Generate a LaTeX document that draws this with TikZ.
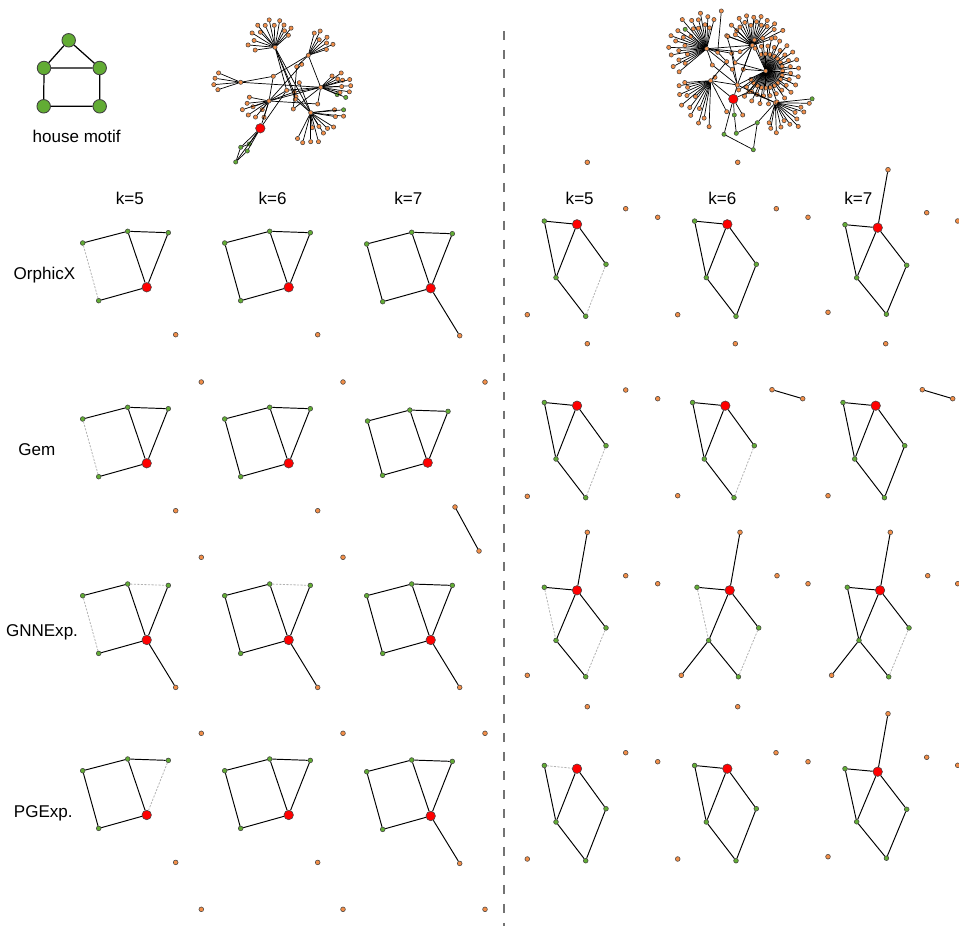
\documentclass[tikz,border=0pt]{standalone}
\usepackage{fontspec}
\setmainfont{Liberation Sans}
\usetikzlibrary{positioning, calc}

\definecolor{motifgreen}{RGB}{98,172,52}
\definecolor{nodeorange}{RGB}{242,142,72}
\definecolor{targetred}{RGB}{255,0,0}

\begin{document}
\begin{tikzpicture}[x=0.02cm, y=-0.02cm, font=\fontsize{9.7}{11.6}\selectfont,
    gn/.style={circle, draw=black!75, line width=0.3pt, fill=motifgreen, inner sep=0pt, minimum size=0.095cm},
    on/.style={gn, fill=nodeorange},
    rn/.style={gn, fill=targetred, minimum size=0.19cm},
    hn/.style={gn, line width=0.5pt, minimum size=0.27cm},
    tl/.style={on, minimum size=0.085cm},
    tg/.style={gn, minimum size=0.085cm},
    sol/.style={draw=black, line width=0.55pt},
    dsh/.style={draw=black!30, line width=0.45pt, dash pattern=on 1.2pt off 0.8pt},
    tedge/.style={draw=black, line width=0.4pt},
    divider/.style={draw=black!55, line width=1.5pt, dash pattern=on 5pt off 5.8pt}]

    \useasboundingbox (0,0) rectangle (959,932);

    % house motif
    \node[hn] (h1) at (68.7,40.3) {};
    \node[hn] (h2) at (44,68) {};
    \node[hn] (h3) at (99.7,68) {};
    \node[hn] (h4) at (43.7,106.3) {};
    \node[hn] (h5) at (99.7,106.3) {};
    \draw[sol, line width=0.7pt] (h1) -- (h2) -- (h3) -- (h1) (h2) -- (h4) -- (h5) -- (h3);
    \node (motif) at (76.7,136.3) {house motif};

    % input graph, left
    \node[tl] (A) at (275,47.3) {};
    \node[tl] (B) at (308.3,55.3) {};
    \node[tl] (C) at (240.7,82.3) {};
    \node[tl] (D) at (320.7,87.3) {};
    \node[tl] (E) at (269,101) {};
    \node[tl] (F) at (310.7,112.7) {};
    \foreach \n/\x/\y in {1/286.7/90.3, 2/294.3/92, 3/296/96.7, 4/293.3/109, 5/299.3/82.7,
                          6/301.7/64.3, 7/296.7/66.7, 8/273.3/76.3, 9/317.7/104, 10/295.3/99.3}
        \node[tl] (M\n) at (\x,\y) {};
    \node[rn] (Ared) at (260.3,128.3) {};
    \node[tg] (AG1) at (240.7,147.3) {};
    \node[tg] (AG2) at (249.3,144) {};
    \node[tg] (AG3) at (247.3,151) {};
    \node[tg] (AG4) at (235.7,162) {};

    \foreach \ang/\rad in {172/20, 185/27, 198/22, 212/27, 226/21, 232/28, 246/24, 258/28,
                           268/22, 280/27, 292/24, 300/19, 310/25, 318/18} {
        \node[tl] (A\ang) at ($(A)+(\ang:\rad)$) {};
        \draw[tedge] (A) -- (A\ang);
    }
    \foreach \ang/\rad in {285/23, 296/27, 305/19, 316/26, 326/22, 336/27, 342/19} {
        \node[tl] (B\ang) at ($(B)+(\ang:\rad)$) {};
        \draw[tedge] (B) -- (B\ang);
    }
    \foreach \ang/\rad in {162/24, 175/27, 189/26, 203/24} {
        \node[tl] (C\ang) at ($(C)+(\ang:\rad)$) {};
        \draw[tedge] (C) -- (C\ang);
    }
    \foreach \ang/\rad in {315/16, 325/25, 334/19, 342/23, 345/30, 357/30, 358/21, 9/29, 15/20} {
        \node[tl] (D\ang) at ($(D)+(\ang:\rad)$) {};
        \draw[tedge] (D) -- (D\ang);
    }
    \foreach \ang/\rad in {24/18, 22/27} {
        \node[tg] (Dg\ang) at ($(D)+(\ang:\rad)$) {};
        \draw[tedge] (D) -- (Dg\ang);
    }
    \foreach \ang/\rad in {107/17, 128/11, 130/21, 146/25, 160/17, 162/28, 174/22, 191/20} {
        \node[tl] (E\ang) at ($(E)+(\ang:\rad)$) {};
        \draw[tedge] (E) -- (E\ang);
    }
    \foreach \ang/\rad in {32/27, 43/23, 58/24, 59/16, 75/30, 84/15, 90/29, 105/31, 117/29, 353/24, 6/33, 9/25} {
        \node[tl] (F\ang) at ($(F)+(\ang:\rad)$) {};
        \draw[tedge] (F) -- (F\ang);
    }
    \node[tg] (Fg) at ($(F)+(355:33)$) {};
    \draw[tedge] (F) -- (Fg);

    \foreach \p/\q in {A/M1, A/M3, A/F, B/M7, B/M8, B/D, C/M8, C/D, M8/E, E/D, E/M1, E/M2,
                       M1/D, M2/D, M3/F, M4/D, M5/F, M6/E, M7/M4, M9/E, M9/D, M10/A, M10/F,
                       Ared/M1, Ared/E}
        \draw[tedge] (\p) -- (\q);
    \foreach \p/\q in {Ared/AG1, Ared/AG2, Ared/AG3, Ared/AG4, AG1/AG4, AG3/AG4, AG1/AG2}
        \draw[tedge] (\p) -- (\q);

    % input graph, right
    \node[tl] (P) at (706.7,48.7) {};
    \node[tl] (Q) at (752.3,45.3) {};
    \node[tl] (R) at (765.7,71) {};
    \node[tl] (S) at (710.7,80.7) {};
    \node[tl] (T) at (737.3,85) {};
    \node[tl] (U) at (775.3,102.7) {};
    \node[tl] (Ntop) at (721.3,11) {};
    \foreach \n/\x/\y in {1/717.7/52.3, 2/726.7/35.7, 3/736.7/30.7, 4/731.7/53.3, 5/740/51.7,
                          6/735/62.7, 7/726.7/61.7, 8/732.3/69.3, 9/743.3/69.3, 10/749/91.7,
                          11/742.7/115, 12/726.7/111.7, 13/712.3/65, 14/715/77.3}
        \node[tl] (N\n) at (\x,\y) {};
    \node[rn] (Bred) at (733.3,99) {};
    \node[tg] (Bg1) at (734.3,115) {};
    \node[tg] (Bg2) at (757.3,122.7) {};
    \node[tg] (Bg3) at (724,134.3) {};
    \node[tg] (Bg4) at (736.3,133.3) {};
    \node[tg] (Bg5) at (753.3,149.7) {};

    \foreach \ang/\rad in {140/36, 146/26, 152/38, 158/30, 164/20, 170/36, 176/28, 182/38, 188/22,
                           194/32, 200/38, 206/26, 212/34, 218/20, 230/38, 236/24, 242/32,
                           248/22, 254/30, 260/36, 266/24, 272/32, 278/21, 284/30} {
        \node[tl] (P\ang) at ($(P)+(\ang:\rad)$) {};
        \draw[tedge] (P) -- (P\ang);
    }
    \node[tg] (Pg) at ($(P)+(222:29)$) {};
    \draw[tedge] (P) -- (Pg);
    \foreach \ang/\rad in {200/26, 212/20, 224/29, 236/22, 244/30, 252/24, 259/30, 266/20, 273/28,
                           280/24, 287/30, 294/22, 301/29, 308/24, 316/31, 324/27, 334/34, 342/24} {
        \node[tl] (Q\ang) at ($(Q)+(\ang:\rad)$) {};
        \draw[tedge] (Q) -- (Q\ang);
    }
    \foreach \ang [count=\i] in {-115,-110,...,150} {
        \pgfmathsetmacro{\rad}{17+8*mod(\i,3)}
        \node[tl] (R\i) at ($(R)+(\ang:\rad)$) {};
        \draw[tedge] (R) -- (R\i);
    }
    \foreach \ang/\rad in {92/46, 100/38, 106/44, 112/30, 120/40, 128/34, 134/22, 140/38, 148/28,
                           156/34, 164/24, 171/32, 176/26} {
        \node[tl] (S\ang) at ($(S)+(\ang:\rad)$) {};
        \draw[tedge] (S) -- (S\ang);
    }
    \foreach \ang/\rad in {1/34, 10/26, 18/30, 26/22, 37/27, 46/33, 56/26, 64/20, 77/25, 88/30,
                           100/26, 107/21} {
        \node[tl] (U\ang) at ($(U)+(\ang:\rad)$) {};
        \draw[tedge] (U) -- (U\ang);
    }
    \node[tg] (Ug) at ($(U)+(-6:37)$) {};
    \draw[tedge] (U) -- (Ug);

    \foreach \p/\q in {Ntop/N1, P/N1, P/N4, N1/N7, N2/Q, N3/Q, N2/N6, P/N5, N5/Q, Q/N6, Q/T,
                       N6/R, N8/T, N9/R, N4/T, N7/S, N13/P, N13/T, N14/S, S/T, T/R, T/Bred,
                       Bred/N10, N10/U, N10/R, N11/Bred, N12/S, P/Q, N8/P, N9/Q, S/Bred, U/T}
        \draw[tedge] (\p) -- (\q);
    \foreach \p/\q in {Bred/Bg1, Bg1/Bg4, Bg4/Bg2, Bg2/U, Bg2/Bg5, Bg3/Bg5, Bred/Bg3}
        \draw[tedge] (\p) -- (\q);

    % divider
    \coordinate (divtop) at (504,31);
    \coordinate (divbot) at (504,926);
    \draw[divider] (divtop) -- (divbot);

    % column and row labels
    \foreach \x/\k in {129.8/5, 272.7/6, 408.3/7, 579.7/5, 722.3/6, 858.3/7}
        \node (k\k) at (\x,198.7) {k=\k};
    \node (orphicx) at (44.5,274.7) {OrphicX};
    \node (gem) at (36.8,449.5) {Gem};
    \node (gnnexp) at (42,632.3) {GNNExp.};
    \node (pgexp) at (43.3,813.8) {PGExp.};

    % explanations, house graph (left)
    \foreach \cx/\cy/\ks/\da/\db/\dc/\oo in {
        146.7/287.3/1/dsh/sol/sol/1, 288.7/287.3/1/sol/sol/sol/1, 430.7/288.3/1/sol/sol/sol/2,
        146.7/463.3/1/dsh/sol/sol/1, 288.7/463.3/1/sol/sol/sol/1, 427.7/462.7/0.94/sol/sol/sol/0,
        146.7/640/1/dsh/dsh/sol/2, 288.7/640/1/sol/dsh/sol/2, 430.7/640/1/sol/sol/sol/2,
        146.7/815/1/sol/sol/dsh/1, 288.7/815/1/sol/sol/sol/1, 430.7/816/1/sol/sol/sol/2} {
        \begin{scope}[shift={(\cx,\cy)}, scale=\ks]
            \node[gn] (a) at (-64,-44.3) {};
            \node[gn] (b) at (-19,-56) {};
            \node[gn] (c) at (21.6,-54.6) {};
            \node[gn] (d) at (-48,13.4) {};
            \node[rn] (r) at (0,0) {};
            \draw[\da] (a) -- (d);
            \draw[sol] (a) -- (b);
            \draw[\db] (b) -- (c);
            \draw[sol] (b) -- (r);
            \draw[\dc] (c) -- (r);
            \draw[sol] (d) -- (r);
            \ifnum\oo>0 \node[on] (o) at (29,47.4) {}; \fi
            \ifnum\oo>1 \draw[sol] (r) -- (o); \fi
        \end{scope}
    }

    % explanations, house graph (right)
    \foreach \cx/\cy/\sy/\fa/\fb/\fc/\tp/\mq in {
        577/224.3/1/sol/sol/dsh/0/0, 727.3/224.3/1/sol/sol/sol/0/0, 877.7/227.7/0.94/sol/sol/sol/1/0,
        577/405.7/1/sol/sol/dsh/0/0, 725.3/405.7/1/sol/sol/dsh/0/0, 875.7/405.7/1/sol/sol/sol/0/0,
        577/590.3/0.94/sol/dsh/dsh/1/0, 729.7/590.3/0.94/sol/dsh/dsh/1/1, 880/590.3/0.94/sol/sol/dsh/1/1,
        577/768.7/1/dsh/sol/sol/0/0, 727.3/768.7/1/sol/sol/sol/0/0, 877.7/771.7/0.94/sol/sol/sol/1/0} {
        \begin{scope}[shift={(\cx,\cy)}, yscale=\sy]
            \node[gn] (u) at (-32.7,-3.2) {};
            \node[rn] (r) at (0,0) {};
            \node[gn] (e) at (29,40) {};
            \node[gn] (m) at (-21,53.3) {};
            \node[gn] (w) at (8.7,92) {};
            \draw[\fa] (u) -- (r);
            \draw[\fb] (u) -- (m);
            \draw[sol] (r) -- (m);
            \draw[sol] (r) -- (e);
            \draw[sol] (m) -- (w);
            \draw[\fc] (e) -- (w);
            \ifnum\tp>0 \node[on] (t) at (10.3,-61.7) {}; \draw[sol] (r) -- (t); \fi
            \ifnum\mq>0 \node[on] (p) at (-48.4,90.4) {}; \draw[sol] (m) -- (p); \fi
        \end{scope}
    }

    % loose nodes
    \foreach \x/\y [count=\i] in {201.3/382, 343/382, 485/382, 201.3/557.3, 343/557.3,
            201.3/733.3, 343/733.3, 485/733.3, 201.3/909.3, 343/909.3, 485/909.3,
            587.3/162.3, 737.7/162.3, 625.7/208.7, 657.7/217.3, 776.3/208.7, 808/217.3,
            926.7/212.7, 957.7/221, 527.3/314.7, 677.7/314.7, 828/312.3, 587.3/343.7,
            735.3/343.7, 885.7/343.7, 625.7/390, 657.7/398.7, 527.3/496.3, 677.7/495.7,
            828/495.7, 625.7/575.7, 657.7/583.7, 777/575.7, 808/583.7, 927.7/575.7,
            957.7/583.7, 527.3/675.3, 587.3/706.7, 737.7/706.7, 625.7/752.7, 657.7/761.7,
            776/752.7, 808/761.7, 926.7/757.3, 957.7/765.3, 527.3/859, 677.7/859, 828/856.7}
        \node[on] (iso\i) at (\x,\y) {};

    % loose pairs
    \node[on] (pa1) at (455,507) {};
    \node[on] (pa2) at (479,551) {};
    \node[on] (pb1) at (772,389.7) {};
    \node[on] (pb2) at (802.7,398.7) {};
    \node[on] (pc1) at (922.3,389.7) {};
    \node[on] (pc2) at (952.7,398.7) {};
    \draw[sol] (pa1) -- (pa2);
    \draw[sol] (pb1) -- (pb2);
    \draw[sol] (pc1) -- (pc2);
\end{tikzpicture}
\end{document}
